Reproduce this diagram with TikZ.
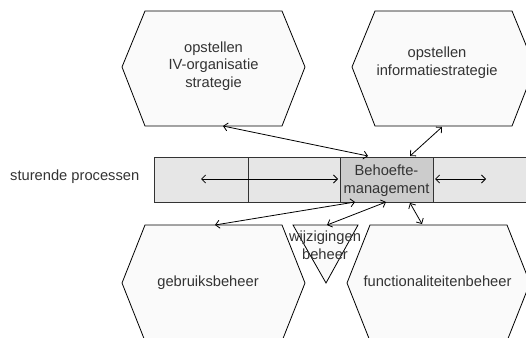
\documentclass[tikz,border=0pt]{standalone}
\usepackage{fontspec}
\setmainfont{Liberation Sans}
\usetikzlibrary{arrows.meta}
\definecolor{hexfill}{HTML}{FAFAFA}
\definecolor{bandfill}{HTML}{E6E6E6}
\definecolor{boxfill}{HTML}{CCCCCC}
\definecolor{txt}{HTML}{333333}
\begin{document}
\begin{tikzpicture}[x=1pt,y=-1pt,
  hexa/.style={draw=black,fill=hexfill,line width=0.8pt},
  band/.style={draw=black!80,fill=bandfill,line width=0.8pt},
  lbl/.style={text=txt,font=\fontsize{14.7}{17.7}\selectfont,align=center,inner sep=0pt},
  conn/.style={line width=0.8pt,{Straight Barb[length=4pt,width=8pt]}-{Straight Barb[length=4pt,width=8pt]}}]
\useasboundingbox (0,0) rectangle (526,337);
\clip (0,0) rectangle (526,337);
% hexagons
\draw[hexa] (122,67) -- (145,11) -- (282,11) -- (305,67) -- (282,126) -- (145,126) -- cycle;
\draw[hexa] (352,67) -- (375,11) -- (512,11) -- (535,67) -- (512,126) -- (375,126) -- cycle;
\draw[hexa] (122,283) -- (145,225) -- (282,225) -- (305,283) -- (282,341) -- (145,341) -- cycle;
\draw[hexa] (347,283) -- (370,225) -- (507,225) -- (530,283) -- (507,341) -- (370,341) -- cycle;
% triangle
\draw[hexa] (293,225) -- (358,225) -- (326,283) -- cycle;
% band
\draw[band] (154,157) rectangle (248,202);
\draw[band] (248,157) rectangle (340,202);
\draw[band,fill=boxfill] (340,157) rectangle (433,202);
\draw[band] (433,157) rectangle (530,202);
% labels
\node[lbl] (ivo) at (213.5,66) {opstellen\\IV-organisatie\\strategie};
\node[lbl] (info) at (437,63) {opstellen\\informatiestrategie};
\node[lbl] (gebr) at (208,283) {gebruiksbeheer};
\node[lbl] (func) at (437.5,281) {functionaliteitenbeheer};
\node[lbl] (wijz) at (325,245) {wijzigingen\\beheer};
\node[lbl] (beh) at (386.5,180.5) {Behoefte-\\management};
\node[lbl,anchor=west] (stur) at (10,177) {sturende processen};
% connector end points
\coordinate (a1) at (223,126); \coordinate (a2) at (368,156);
\coordinate (b1) at (442,127); \coordinate (b2) at (410,156);
\coordinate (c1) at (201,179); \coordinate (c2) at (338,179);
\coordinate (d1) at (435,179); \coordinate (d2) at (486,179);
\coordinate (e1) at (355,202); \coordinate (e2) at (215,225);
\coordinate (f1) at (386,202); \coordinate (f2) at (327,225);
\coordinate (g1) at (410,203); \coordinate (g2) at (422,224);
\draw[conn] (a1) -- (a2);
\draw[conn] (b1) -- (b2);
\draw[conn] (c1) -- (c2);
\draw[conn] (d1) -- (d2);
\draw[conn] (e1) -- (e2);
\draw[conn] (f1) -- (f2);
\draw[conn] (g1) -- (g2);
\end{tikzpicture}
\end{document}
